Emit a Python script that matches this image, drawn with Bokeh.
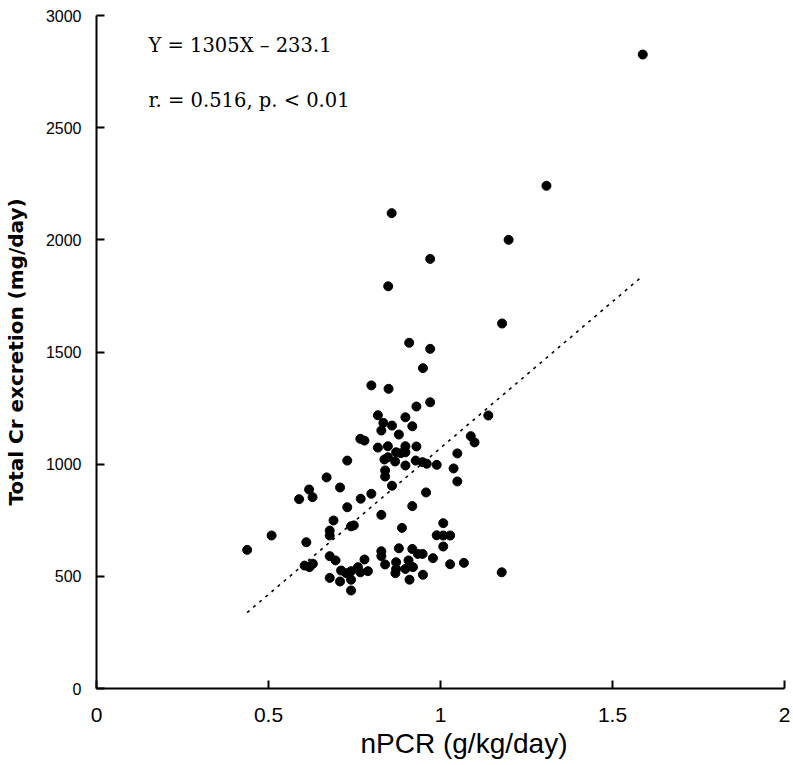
from bokeh.plotting import figure
from bokeh.models import Range1d, FixedTicker, Label, Title
from bokeh.embed import file_html
from bokeh.resources import INLINE

# nPCR (g/kg/day)
npcr = [1.588, 1.308, 1.198, 0.970, 1.179, 0.909, 0.970, 0.949, 0.858, 0.848,
        0.799, 0.849, 0.930, 0.818, 0.898, 0.834, 0.859, 0.918, 0.828, 0.879,
        0.767, 0.779, 0.818, 0.847, 0.898, 0.930, 0.871, 0.885, 0.898, 0.847,
        0.837, 0.868, 0.898, 0.928, 0.729, 0.839, 0.839, 0.669, 0.859, 0.708,
        0.618, 0.589, 0.628, 0.799, 0.768, 0.729, 0.918, 0.828, 0.689, 0.740,
        0.748, 0.888, 0.678, 0.678, 0.509, 0.438, 0.610, 0.828, 0.879, 0.918,
        0.828, 0.934, 0.678, 0.695, 0.779, 0.605, 0.619, 0.629, 0.839, 0.871,
        0.907, 0.871, 0.898, 0.920, 0.869, 0.711, 0.726, 0.740, 0.760, 0.767,
        0.789, 0.678, 0.708, 0.740, 0.740, 0.910,
        0.970, 1.139, 1.088, 1.099, 1.049, 0.948, 0.960, 0.989, 1.038, 1.049,
        0.958, 1.008, 0.989, 1.008, 1.028, 1.008, 0.948, 0.978, 1.028, 1.068,
        1.178, 0.949]
# Total Cr excretion (mg/day)
cr = [2826, 2241, 2000, 1915, 1627, 1541, 1514, 1428, 2119, 1793,
      1351, 1336, 1257, 1218, 1209, 1184, 1172, 1169, 1150, 1132,
      1113, 1105, 1074, 1080, 1080, 1079, 1053, 1049, 1053, 1031,
      1021, 1012, 994, 1016, 1016, 972, 945, 941, 904, 896,
      887, 844, 853, 868, 846, 808, 813, 774, 749, 723,
      727, 716, 704, 682, 682, 618, 652, 612, 625, 622,
      590, 600, 590, 571, 575, 548, 541, 556, 553, 563,
      571, 533, 533, 541, 514, 526, 514, 523, 541, 518,
      523, 493, 477, 485, 437, 485,
      1276, 1217, 1125, 1097, 1048, 1009, 1002, 997, 981, 923,
      874, 737, 683, 682, 682, 633, 600, 581, 554, 560,
      518, 507]

slope = 1305
intercept = -233.1
eq_text = "Y = 1305X \u2013 233.1"
r_text = "r. = 0.516, p. < 0.01"

x_ticks = [0, 0.5, 1, 1.5, 2]
y_ticks = [0, 500, 1000, 1500, 2000, 2500, 3000]

p = figure(width=790, height=762, output_backend="svg", toolbar_location=None,
           x_range=Range1d(0, 2), y_range=Range1d(0, 3000),
           min_border_left=95, min_border_right=6, min_border_top=15, min_border_bottom=74)
p.outline_line_color = None
p.grid.visible = False
p.background_fill_color = "white"
p.border_fill_color = "white"

for ax in (p.xaxis[0], p.yaxis[0]):
    ax.axis_line_color = "black"
    ax.axis_line_width = 2
    ax.major_tick_line_color = "black"
    ax.major_tick_line_width = 2
    ax.major_tick_in = 8
    ax.major_tick_out = 0
    ax.minor_tick_line_color = None
    ax.major_label_text_color = "black"

p.xaxis.ticker = FixedTicker(ticks=x_ticks)
p.yaxis.ticker = FixedTicker(ticks=y_ticks)
p.xaxis.major_label_overrides = {0: "0", 0.5: "0.5", 1: "1", 1.5: "1.5", 2: "2"}
p.xaxis.major_label_text_font = "Liberation Sans Narrow, Liberation Sans"
p.xaxis.major_label_text_font_size = "21px"
p.xaxis.major_label_standoff = 19
p.yaxis.major_label_text_font = "Liberation Sans"
p.yaxis.major_label_text_font_size = "16px"
p.yaxis.major_label_standoff = 15

p.yaxis.axis_label = "Total Cr excretion (mg/day)"
p.yaxis.axis_label_text_font = "DejaVu Sans"
p.yaxis.axis_label_text_font_style = "bold"
p.yaxis.axis_label_text_font_size = "20px"
p.yaxis.axis_label_text_color = "black"
p.yaxis.axis_label_standoff = 15

xt = Title(text="nPCR (g/kg/day)", align="left", offset=264, standoff=2,
           text_font="Liberation Sans", text_font_size="28px",
           text_font_style="normal", text_color="black")
p.add_layout(xt, "below")

# regression line
x0, x1 = min(npcr), max(npcr)
p.line([x0, x1], [slope * x0 + intercept, slope * x1 + intercept],
       line_color="black", line_width=1.6, line_dash="3 5")

p.scatter(npcr, cr, size=9, fill_color="black", line_color="black")

for txt, yy in ((eq_text, 2866), (r_text, 2621)):
    p.add_layout(Label(x=0.151, y=yy, text=txt, text_align="left", text_baseline="middle",
                       text_font="DejaVu Serif", text_font_size="19.5px", text_color="black"))

open("out.html", "w").write(file_html(p, INLINE))
